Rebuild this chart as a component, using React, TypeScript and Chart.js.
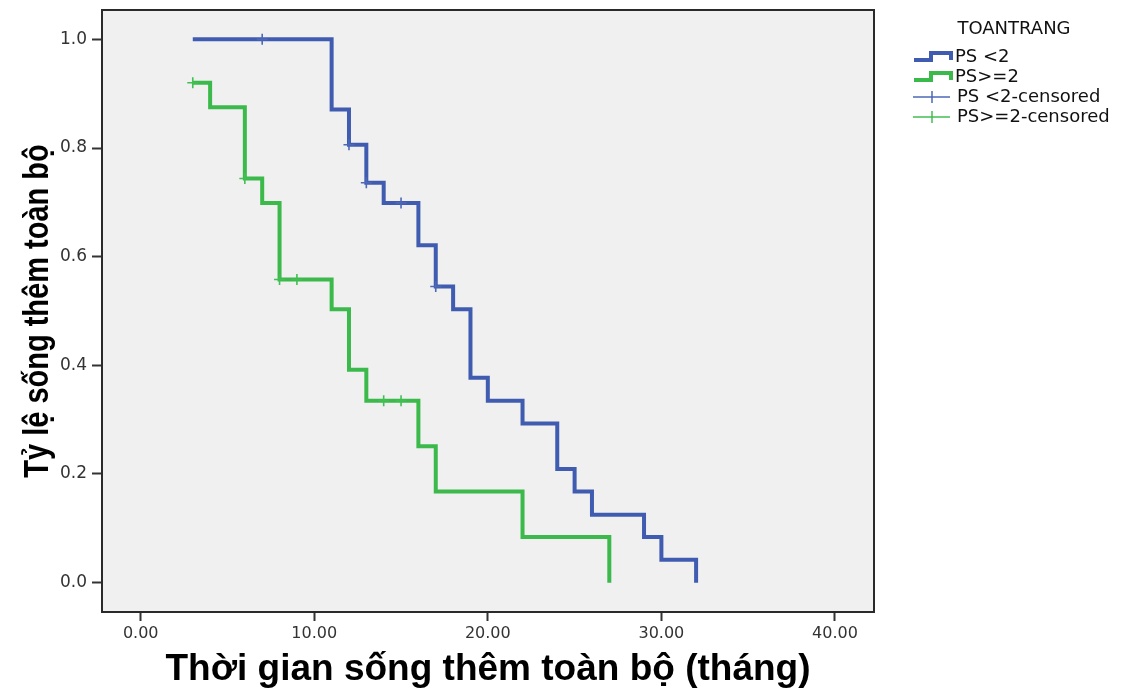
import React, { useEffect, useRef } from "react";
import { Chart, registerables } from "chart.js";

Chart.register(...registerables);

// ---- Data ----
const groupLabels = ["PS <2", "PS>=2"];
const censoredLabels = ["PS <2-censored", "PS>=2-censored"];
const legendTitle = "TOANTRANG";
const xAxisTitle = "Thời gian sống thêm toàn bộ (tháng)";
const yAxisTitle = "Tỷ lệ sống thêm toàn bộ";

const xTickValues = [0, 10, 20, 30, 40];
const yTickValues = [0, 0.2, 0.4, 0.6, 0.8, 1.0];

const ps1Times = [3, 11, 12, 13, 14, 16, 17, 18, 19, 20, 22, 24, 25, 26, 29, 30, 32];
const ps1Survival = [1.0, 0.871, 0.806, 0.736, 0.699, 0.621, 0.545, 0.503, 0.377, 0.335, 0.293, 0.209, 0.168, 0.125, 0.084, 0.042, 0.0];
const ps1CensorTimes = [7, 12, 13, 15, 17];
const ps1CensorSurvival = [1.0, 0.806, 0.736, 0.699, 0.545];

const ps2Times = [3, 4, 6, 7, 8, 11, 12, 13, 16, 17, 22, 27];
const ps2Survival = [0.92, 0.875, 0.744, 0.699, 0.558, 0.503, 0.392, 0.335, 0.251, 0.168, 0.084, 0.0];
const ps2CensorTimes = [3, 6, 8, 9, 14, 15];
const ps2CensorSurvival = [0.92, 0.744, 0.558, 0.558, 0.335, 0.335];

const BLUE = "#3f5cb0";
const GREEN = "#3bb94b";
const BLUE_LIGHT = "#4d68b8";
const GREEN_LIGHT = "#42bf52";

const toPoints = (xs: number[], ys: number[]) => xs.map((x, i) => ({ x, y: ys[i] }));

const plotBackground = {
  id: "plotBackground",
  beforeDraw(chart: any) {
    const { ctx, chartArea } = chart;
    ctx.save();
    ctx.fillStyle = "#f0f0f0";
    ctx.fillRect(chartArea.left, chartArea.top, chartArea.right - chartArea.left, chartArea.bottom - chartArea.top);
    ctx.restore();
  },
  afterDraw(chart: any) {
    const { ctx, chartArea } = chart;
    ctx.save();
    ctx.strokeStyle = "#2a2a2a";
    ctx.lineWidth = 2;
    ctx.strokeRect(chartArea.left, chartArea.top, chartArea.right - chartArea.left, chartArea.bottom - chartArea.top);
    // y axis title (drawn slightly stretched, like the source picture)
    const cy = (chartArea.top + chartArea.bottom) / 2;
    ctx.translate(38, cy);
    ctx.rotate(-Math.PI / 2);
    ctx.scale(1, 1.22);
    ctx.font = 'bold 29px "Liberation Sans"';
    ctx.fillStyle = "#000";
    ctx.textAlign = "center";
    ctx.textBaseline = "middle";
    ctx.fillText(yAxisTitle, 0, 0);
    ctx.restore();
  },
};

const kmLegend = {
  id: "kmLegend",
  afterDraw(chart: any) {
    const ctx = chart.ctx;
    const ds = chart.data.datasets;
    ctx.save();
    ctx.fillStyle = "#111";
    ctx.textBaseline = "middle";
    ctx.font = '18px "DejaVu Sans"';
    ctx.textAlign = "center";
    ctx.fillText(legendTitle, 1014, 29);
    ctx.textAlign = "left";
    const rowY = [57, 77, 97, 117];
    const lines = ds.filter((d: any) => d.kind === "line");
    const cens = ds.filter((d: any) => d.kind === "censor");
    lines.forEach((d: any, i: number) => {
      const y = rowY[i];
      ctx.strokeStyle = d.borderColor;
      ctx.lineWidth = 4;
      ctx.lineJoin = "miter";
      ctx.beginPath();
      ctx.moveTo(914, y + 3);
      ctx.lineTo(931, y + 3);
      ctx.lineTo(931, y - 4);
      ctx.lineTo(951, y - 4);
      ctx.lineTo(951, y + 3);
      ctx.stroke();
      ctx.fillText(d.label, 955, y);
    });
    cens.forEach((d: any, i: number) => {
      const y = rowY[2 + i];
      ctx.strokeStyle = d.pointBorderColor;
      ctx.lineWidth = 1.5;
      ctx.beginPath();
      ctx.moveTo(913, y);
      ctx.lineTo(950, y);
      ctx.moveTo(932, y - 6);
      ctx.lineTo(932, y + 6);
      ctx.stroke();
      ctx.fillText(d.label, 957, y);
    });
    ctx.restore();
  },
};

export default function App() {
  const canvasRef = useRef<HTMLCanvasElement | null>(null);

  useEffect(() => {
    if (!canvasRef.current) return;
    const chart = new Chart(canvasRef.current, {
      type: "line",
      data: {
        datasets: [
          {
            kind: "censor",
            label: censoredLabels[0],
            data: toPoints(ps1CensorTimes, ps1CensorSurvival),
            showLine: false,
            pointStyle: "cross",
            pointRadius: 5.5,
            pointBorderWidth: 1.6,
            pointBorderColor: BLUE_LIGHT,
            pointBackgroundColor: BLUE_LIGHT,
            order: 0,
          },
          {
            kind: "censor",
            label: censoredLabels[1],
            data: toPoints(ps2CensorTimes, ps2CensorSurvival),
            showLine: false,
            pointStyle: "cross",
            pointRadius: 5.5,
            pointBorderWidth: 1.6,
            pointBorderColor: GREEN_LIGHT,
            pointBackgroundColor: GREEN_LIGHT,
            order: 0,
          },
          {
            kind: "line",
            label: groupLabels[0],
            data: toPoints(ps1Times, ps1Survival),
            borderColor: BLUE,
            borderWidth: 4,
            stepped: "before",
            pointRadius: 0,
            fill: false,
            borderJoinStyle: "miter",
            borderCapStyle: "butt",
            order: 1,
          },
          {
            kind: "line",
            label: groupLabels[1],
            data: toPoints(ps2Times, ps2Survival),
            borderColor: GREEN,
            borderWidth: 4,
            stepped: "before",
            pointRadius: 0,
            fill: false,
            borderJoinStyle: "miter",
            borderCapStyle: "butt",
            order: 1,
          },
        ] as any,
      },
      options: {
        animation: false,
        responsive: false,
        devicePixelRatio: 1,
        layout: { padding: { left: 0, top: 10, right: 250, bottom: 0 } },
        plugins: {
          legend: { display: false },
          tooltip: { enabled: false },
        },
        scales: {
          x: {
            type: "linear",
            min: -2.23,
            max: 42.25,
            afterBuildTicks: (s: any) => {
              s.ticks = xTickValues.map((v) => ({ value: v }));
            },
            afterFit: (s: any) => {
              s.height = 81;
              s.paddingLeft = 0;
              s.paddingRight = 0;
            },
            ticks: {
              callback: (v: any) => Number(v).toFixed(2),
              font: { family: "DejaVu Sans", size: 16 },
              color: "#333",
              padding: 3,
              maxRotation: 0,
              autoSkip: false,
            },
            grid: {
              display: true,
              drawOnChartArea: false,
              drawTicks: true,
              tickLength: 9,
              tickColor: "#333",
              tickWidth: 2,
            },
            border: { display: true, color: "#2a2a2a", width: 2 },
            title: {
              display: true,
              text: xAxisTitle,
              font: { family: "Liberation Sans", size: 37, weight: "bold" },
              color: "#000",
              padding: { top: 0, bottom: 1 },
            },
          },
          y: {
            type: "linear",
            min: -0.054,
            max: 1.054,
            afterBuildTicks: (s: any) => {
              s.ticks = yTickValues.map((v) => ({ value: v }));
            },
            afterFit: (s: any) => {
              s.width = 102;
              s.paddingTop = 0;
              s.paddingBottom = 0;
            },
            ticks: {
              callback: (v: any) => Number(v).toFixed(1),
              font: { family: "DejaVu Sans", size: 17 },
              color: "#333",
              padding: 5,
              autoSkip: false,
            },
            grid: {
              display: true,
              drawOnChartArea: false,
              drawTicks: true,
              tickLength: 10,
              tickColor: "#333",
              tickWidth: 2,
            },
            border: { display: true, color: "#2a2a2a", width: 2 },
            title: { display: false, text: yAxisTitle },
          },
        },
      } as any,
      plugins: [plotBackground, kmLegend],
    });
    return () => chart.destroy();
  }, []);

  return (
    <div style={{ position: "fixed", left: 0, top: 0, width: 1124, height: 693, background: "#fff" }}>
      <canvas ref={canvasRef} width={1124} height={693} style={{ width: 1124, height: 693, display: "block" }} />
    </div>
  );
}
